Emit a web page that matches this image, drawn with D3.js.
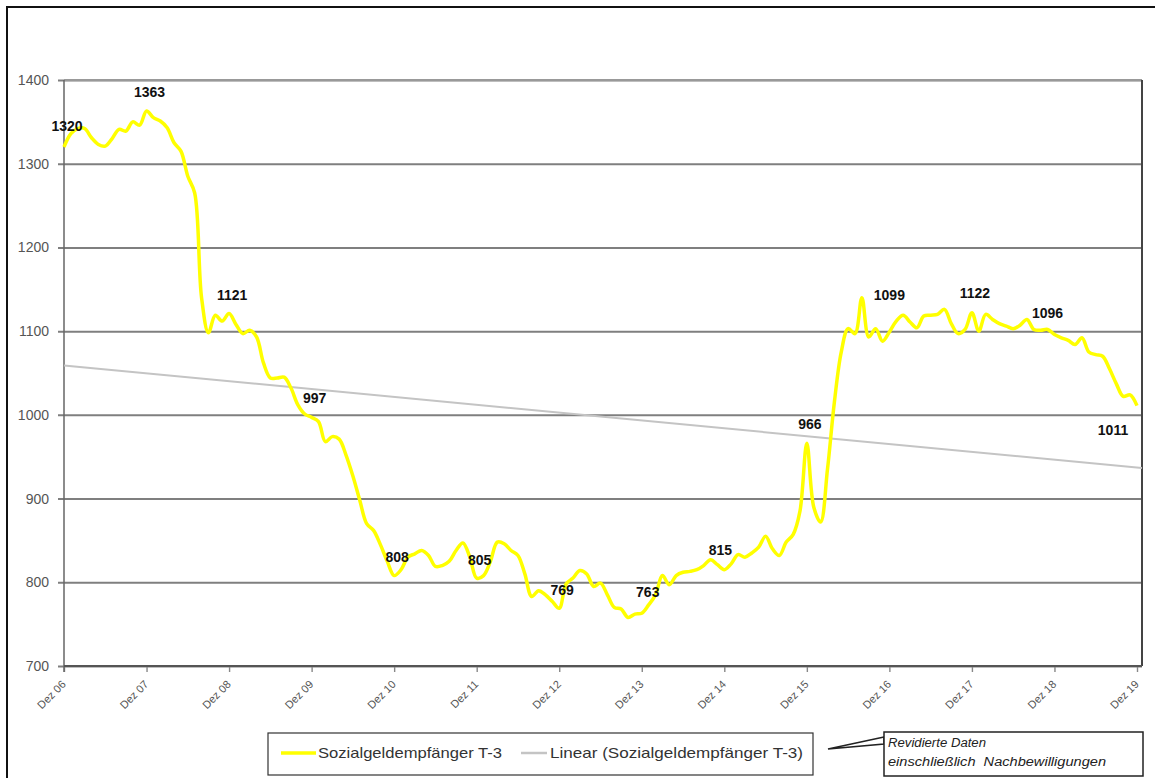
<!DOCTYPE html>
<html>
<head>
<meta charset="utf-8">
<script src="https://cdn.jsdelivr.net/npm/d3@7"></script>
<style>
  body { margin: 0; background: #fff; }
  svg { display: block; font-family: "Liberation Sans", Arial, sans-serif; }
</style>
</head>
<body>
<svg id="chart" width="1155" height="778"></svg>
<script>
// December tick labels (one per year, every 12 months)
const tickLabels = ["Dez 06", "Dez 07", "Dez 08", "Dez 09", "Dez 10", "Dez 11", "Dez 12",
                    "Dez 13", "Dez 14", "Dez 15", "Dez 16", "Dez 17", "Dez 18", "Dez 19"];
const yTicks = [700, 800, 900, 1000, 1100, 1200, 1300, 1400];

// Monthly values, Dez 06 .. Dez 19 (157 months)
const values = [
  1320, 1336, 1342, 1342, 1331, 1323, 1321, 1330, 1341, 1339, 1350, 1346,
  1363, 1355, 1351, 1343, 1325, 1315, 1285, 1265, 1140, 1098, 1119, 1112,
  1121, 1108, 1097, 1101, 1093, 1062, 1044, 1044, 1045, 1032, 1012, 1001,
  997, 992, 968, 974, 971, 952, 927, 898, 870, 862, 845, 825,
  808, 815, 830, 834, 838, 832, 819, 820, 825, 838, 847, 830,
  805, 808, 825, 848, 846, 838, 832, 810, 783, 790, 785, 777,
  769, 798, 805, 814, 810, 795, 799, 785, 770, 768, 758, 762,
  763, 773, 785, 808, 797, 808, 812, 813, 815, 820, 827, 821,
  815, 822, 833, 830, 835, 842, 855, 840, 832, 848, 857, 885,
  966, 890, 872, 935, 1015, 1075, 1103, 1097, 1140, 1093, 1103, 1088,
  1099, 1112, 1119, 1111, 1104, 1118, 1119, 1120, 1126, 1109, 1097, 1102,
  1122, 1100, 1120, 1114, 1109, 1106, 1103, 1107, 1114, 1102, 1101, 1102,
  1096, 1092, 1089, 1084, 1092, 1075, 1072, 1070, 1055, 1037, 1022, 1024,
  1011
];

// Linear trend: value at Dez 06 and at Dez 19
const trendValues = [1059, 937];

const seriesName = "Sozialgeldempfänger T-3";
const trendName = "Linear (Sozialgeldempfänger T-3)";
const noteLines = ["Revidierte Daten", "einschließlich  Nachbewilligungen"];

// label placement relative to the December point [dx, dy]
const labelOffsets = [[3, -16], [3, -14], [3, -14], [3, -14], [3, -14], [3, -13], [3, -13],
                      [6, -16], [-4, -15], [3, -14], [0, -32], [3, -15], [-7, -16], [-24, 29]];

const svg = d3.select("#chart");
const plotLeft = 64, lastX = 1137, plotRight = 1142, plotTop = 80, plotBottom = 666;

const x = d3.scaleLinear().domain([0, values.length - 1]).range([plotLeft, lastX]);
const y = d3.scaleLinear().domain([700, 1400]).range([plotBottom, plotTop]);

// outer frame
svg.append("path").attr("d", "M7,778 L7,7 L1155,7")
  .attr("fill", "none").attr("stroke", "#111").attr("stroke-width", 2);

// horizontal grid + y ticks
const gy = svg.append("g")
  .attr("transform", `translate(${plotLeft},0)`)
  .call(d3.axisLeft(y).tickValues(yTicks).tickFormat(d3.format("d"))
    .tickSize(-(plotRight - plotLeft)).tickSizeOuter(0).tickPadding(8));
gy.select(".domain").remove();
gy.selectAll(".tick line").attr("x1", -6).attr("stroke", "#7f7f7f").attr("stroke-width", 2);
gy.selectAll(".tick text").attr("font-size", 14).attr("fill", "#555")
  .attr("font-family", "Liberation Sans, Arial, sans-serif").attr("x", -15);

// vertical grid + x ticks
const tickIdx = tickLabels.map((d, i) => i * 12);
const gx = svg.append("g")
  .attr("transform", `translate(0,${plotBottom})`)
  .call(d3.axisBottom(x).tickValues(tickIdx).tickSize(-(plotBottom - plotTop)).tickSizeOuter(0).tickFormat((d, i) => tickLabels[i]));
gx.select(".domain").remove();
gx.selectAll(".tick line").attr("y2", 6).attr("stroke", "#888").attr("stroke-width", 1.4);
gx.selectAll(".tick text")
  .attr("font-size", 11).attr("fill", "#555")
  .attr("font-family", "Liberation Sans, Arial, sans-serif")
  .attr("text-anchor", "end")
  .attr("dy", null)
  .attr("y", 0)
  .attr("transform", "translate(2,19) rotate(-45)");

// plot frame
svg.append("line").attr("x1", plotLeft).attr("x2", plotRight).attr("y1", plotTop).attr("y2", plotTop)
  .attr("stroke", "#999").attr("stroke-width", 2);
svg.append("line").attr("x1", plotLeft).attr("x2", plotLeft).attr("y1", plotTop).attr("y2", plotBottom + 6)
  .attr("stroke", "#666").attr("stroke-width", 1.5);
svg.append("line").attr("x1", plotRight).attr("x2", plotRight).attr("y1", plotTop).attr("y2", plotBottom)
  .attr("stroke", "#444").attr("stroke-width", 2);
svg.append("line").attr("x1", plotLeft).attr("x2", plotRight).attr("y1", plotBottom).attr("y2", plotBottom)
  .attr("stroke", "#555").attr("stroke-width", 2);

// trend line
const trendAt = i => trendValues[0] + (trendValues[1] - trendValues[0]) * i / (values.length - 1);
const iEnd = x.invert(plotRight);
svg.append("line")
  .attr("x1", x(0)).attr("y1", y(trendAt(0)))
  .attr("x2", x(iEnd)).attr("y2", y(trendAt(iEnd)))
  .attr("stroke", "#c4c4c4").attr("stroke-width", 2);

// series line
const line = d3.line().x((d, i) => x(i)).y(d => y(d)).curve(d3.curveCatmullRom.alpha(0.5));
svg.append("path").datum(values)
  .attr("d", line)
  .attr("fill", "none").attr("stroke", "#ffff00").attr("stroke-width", 3.5)
  .attr("stroke-linejoin", "round");

// December value labels
svg.append("g").selectAll("text").data(tickIdx).join("text")
  .attr("x", (d, k) => x(d) + labelOffsets[k][0])
  .attr("y", (d, k) => y(values[d]) + labelOffsets[k][1])
  .attr("text-anchor", "middle")
  .attr("font-size", 14).attr("font-weight", "bold").attr("fill", "#111")
  .text(d => values[d]);

// legend
const lg = svg.append("g");
lg.append("rect").attr("x", 268).attr("y", 733).attr("width", 545).attr("height", 42)
  .attr("fill", "#fff").attr("stroke", "#333").attr("stroke-width", 1.2);
lg.append("line").attr("x1", 281).attr("x2", 316).attr("y1", 753).attr("y2", 753)
  .attr("stroke", "#ffff00").attr("stroke-width", 3.5);
lg.append("text").attr("x", 318).attr("y", 758).attr("font-size", 15).attr("fill", "#333")
  .attr("textLength", 184).attr("lengthAdjust", "spacingAndGlyphs").text(seriesName);
lg.append("line").attr("x1", 521).attr("x2", 547).attr("y1", 753).attr("y2", 753)
  .attr("stroke", "#c4c4c4").attr("stroke-width", 2.5);
lg.append("text").attr("x", 550).attr("y", 758).attr("font-size", 15).attr("fill", "#333")
  .attr("textLength", 253).attr("lengthAdjust", "spacingAndGlyphs").text(trendName);

// callout note
const noteWidths = [98, 218];
const note = svg.append("g");
note.append("polygon").attr("points", "884,737 828,749 884,744")
  .attr("fill", "#fff").attr("stroke", "#222").attr("stroke-width", 1.5);
note.append("rect").attr("x", 884).attr("y", 732).attr("width", 259).attr("height", 44)
  .attr("fill", "#fff").attr("stroke", "#222").attr("stroke-width", 1.5);
note.selectAll("text").data(noteLines).join("text")
  .attr("x", 888).attr("y", (d, i) => 747 + i * 19)
  .attr("font-size", 12).attr("font-style", "italic").attr("fill", "#222")
  .style("white-space", "pre")
  .attr("textLength", (d, i) => noteWidths[i]).attr("lengthAdjust", "spacingAndGlyphs")
  .text(d => d);
</script>
</body>
</html>
